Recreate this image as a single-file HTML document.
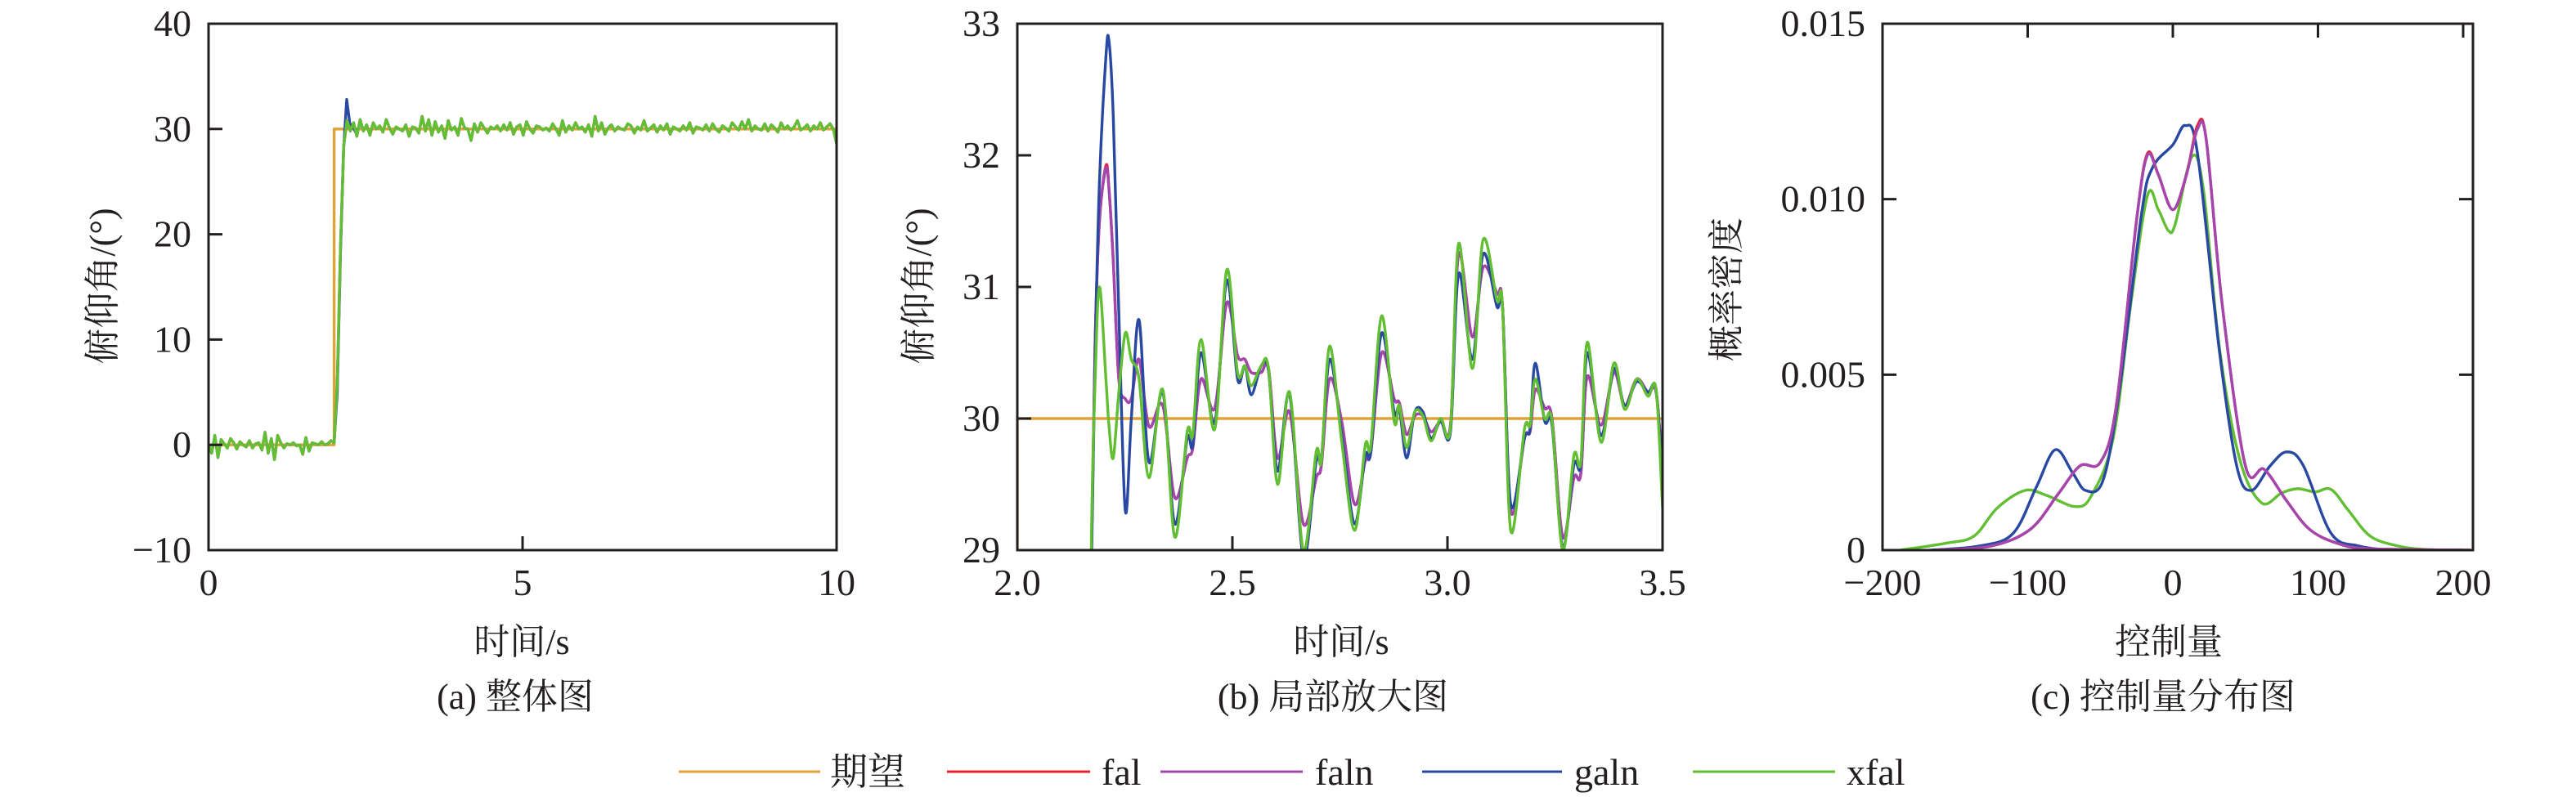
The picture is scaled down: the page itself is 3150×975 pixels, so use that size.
<!DOCTYPE html>
<html><head><meta charset="utf-8">
<style>
html,body{margin:0;padding:0;background:#fff;width:3150px;height:975px;overflow:hidden;}
svg{display:block;font-family:"Liberation Serif","Noto Serif CJK SC",serif;overflow:hidden;}
</style></head>
<body>
<svg id="fig" width="3150" height="975" viewBox="0 0 3150 975" xmlns="http://www.w3.org/2000/svg">
<rect width="3150" height="975" fill="#fff"/>
<g id="pa"></g>
<g id="pb"></g>
<g id="pc"></g>
<g id="legend"></g>
</svg>
<script>
// ---------- Panel (a) data ----------
const aTicksX = [0, 5, 10];
const aTicksY = [-10, 0, 10, 20, 30, 40];
const aPre = [0,-0.8,0.9,-1.2,0.5,0.1,-0.3,0.6,0.2,-0.4,0.3,0,-0.2,0.4,-0.3,0.1,0.2,-0.5,1.2,-0.8,0.6,-1.4,0.9,0.2,-0.3,0.1,0,0.2,-0.1,0,-0.9,0.7,-0.6,0.2,0.1,0,0.3,0,0.1,0.4,0.2];
const aPost = [6,19,28.5,30.8,29.8,30.6,29.3,30.9,29.8,30.4,29.4,30.6,30.0,30.3,29.7,30.9,30.1,29.5,30.2,30.0,29.8,30.4,29.3,30.2,30.1,29.6,31.2,29.8,30.9,29.4,30.7,29.7,30.3,29.1,30.8,29.9,30.2,29.4,31.0,30.1,30.0,28.9,30.5,29.7,30.6,30.1,29.6,30.2,30.0,30.3,29.8,30.4,29.9,30.6,29.5,30.2,30.4,29.4,30.7,30.0,29.6,30.3,30.2,29.9,30.1,29.8,30.5,30.0,29.4,30.8,29.7,30.3,29.9,30.6,30.0,30.2,29.7,30.4,29.3,31.2,29.8,30.6,29.5,30.1,30.4,29.8,30.2,30.0,29.9,30.5,30.3,29.6,30.2,29.9,30.8,29.8,30.1,30.4,29.7,30.3,29.9,30.5,29.5,30.2,30.0,29.8,30.3,29.9,30.6,29.6,30.2,30.1,29.9,30.4,29.8,30.5,30.0,29.7,30.3,30.1,29.8,30.6,30.2,29.9,30.7,30.0,30.9,29.8,30.3,30.0,29.9,30.5,29.8,30.4,30.1,29.7,30.6,30.0,30.3,29.9,30.2,30.8,29.9,30.1,30.4,29.8,30.3,30.0,30.6,29.9,30.2,30.5,30.0,28.6];
const aBlueT = [2.0,2.05,2.1,2.15,2.2,2.25,2.3,2.35,2.4];
const aBlueV = [0.2,5,18,28,32.8,30.5,30.2,29.6,30.3];
const aDesT = [0, 2, 2, 10];
const aDesV = [0, 0, 30, 30];

// ---------- Panel (b) data ----------
const bTicksX = [2.0, 2.5, 3.0, 3.5];
const bTicksY = [29, 30, 31, 32, 33];
const bTime = [2.165,2.172,2.181,2.191,2.206,2.213,2.223,2.236,2.251,2.265,2.283,2.306,2.338,2.366,2.395,2.408,2.427,2.459,2.487,2.512,2.529,2.544,2.567,2.584,2.605,2.633,2.665,2.695,2.707,2.726,2.754,2.784,2.809,2.822,2.847,2.876,2.888,2.905,2.924,2.943,2.962,2.984,3.007,3.026,3.058,3.083,3.115,3.128,3.147,3.179,3.192,3.204,3.226,3.243,3.268,3.294,3.310,3.325,3.357,3.387,3.412,3.440,3.466,3.485,3.5];
const bXfal = [26,29.0,30.3,31.0,30.3,29.95,29.7,30.2,30.65,30.45,30.3,29.55,30.22,29.1,29.9,29.88,30.6,29.92,31.13,30.35,30.4,30.25,30.4,30.38,29.5,30.2,29.0,29.75,29.68,30.55,29.83,29.15,29.8,29.8,30.78,29.98,30.1,29.78,30.05,30.02,29.83,30.0,29.93,31.33,30.38,31.36,30.9,30.85,29.15,29.92,29.95,30.3,30.0,29.98,29.0,29.72,29.67,30.58,29.82,30.42,30.07,30.3,30.17,30.22,29.32];
const bGaln = [26,28.8,30.5,31.8,32.75,32.87,32.3,30.8,29.3,30.0,30.75,29.67,30.2,29.2,29.85,29.8,30.5,29.97,31.05,30.3,30.4,30.18,30.4,30.36,29.6,30.18,28.95,29.68,29.7,30.45,29.88,29.2,29.72,29.75,30.65,30.05,30.08,29.7,30.05,30.05,29.85,29.98,29.9,31.1,30.45,31.25,30.85,30.85,29.35,29.85,29.92,30.42,29.98,29.95,29.02,29.65,29.65,30.5,29.87,30.38,30.1,30.28,30.2,30.22,29.5];
const bFaln = [26,28.9,30.6,31.5,31.9,31.75,31.2,30.3,30.15,30.15,30.45,29.94,30.1,29.4,29.7,29.78,30.3,30.08,30.88,30.48,30.45,30.35,30.35,30.38,29.7,30.05,29.2,29.55,29.65,30.3,29.98,29.35,29.68,29.75,30.5,30.15,30.12,29.88,30.02,30.02,29.9,29.98,29.95,31.25,30.62,31.15,30.95,30.85,29.3,29.85,29.9,30.22,30.08,30.0,29.1,29.55,29.58,30.32,29.95,30.35,30.1,30.3,30.2,30.2,29.6];
const bFal = [26,28.9,30.6,31.5,31.92,31.75,31.2,30.3,30.15,30.15,30.45,29.94,30.1,29.4,29.7,29.78,30.3,30.08,30.88,30.48,30.45,30.35,30.35,30.38,29.7,30.05,29.2,29.55,29.65,30.3,29.98,29.35,29.68,29.75,30.5,30.15,30.12,29.88,30.02,30.02,29.9,29.98,29.95,31.25,30.62,31.15,30.95,30.85,29.3,29.85,29.9,30.22,30.08,30.0,29.1,29.55,29.58,30.32,29.95,30.35,30.1,30.3,30.2,30.2,29.6];
const bDesT = [2.0, 2.0, 3.5];
const bDesV = [28, 30, 30];

// ---------- Panel (c) data ----------
const cTicksX = [-200, -100, 0, 100, 200];
const cTicksY = [0, 0.005, 0.010, 0.015];
const cTickLabelsY = ["0", "0.005", "0.010", "0.015"];
const cXfalX = [-188,-156,-137,-121,-102,-87,-67,-56,-41,-29,-17.5,-10,-3,1.7,13,21,32,46,61,75,86,98,109,121,136,155,174,200];
const cXfalY = [0,0.0002,0.0004,0.0012,0.0017,0.00156,0.00124,0.00156,0.0032,0.007,0.0101,0.0097,0.0091,0.0093,0.0112,0.0103,0.0058,0.0026,0.00135,0.00163,0.00175,0.00166,0.00173,0.00113,0.0004,0.00012,0.00002,0];
const cGalnX = [-167,-133,-110,-94,-81,-69,-60,-48,-37,-21.5,-14,0,8.6,17,32,44,54,67,78.5,90,109,128,155,200];
const cGalnY = [0,0.00012,0.00048,0.0018,0.00286,0.0022,0.0017,0.002,0.0045,0.0096,0.0109,0.01155,0.0121,0.0113,0.0057,0.0024,0.0017,0.0024,0.0028,0.0024,0.00048,0.00012,0,0];
const cFalnX = [-163,-125,-98,-79,-64,-50,-39,-25,-17.5,-10,0,9.4,17,23,34,50,63,78.5,94,113,136,205];
const cFalnY = [0,0.00012,0.0006,0.0016,0.0024,0.0025,0.0041,0.0094,0.01125,0.0107,0.0097,0.0107,0.012,0.0117,0.007,0.0024,0.0023,0.0014,0.0006,0.0002,0.00004,0];
const cFalY = [0,0.00012,0.0006,0.0016,0.0024,0.0025,0.0041,0.0094,0.0113,0.0107,0.0097,0.0107,0.0121,0.0117,0.007,0.0024,0.0023,0.0014,0.0006,0.0002,0.00004,0];

const legendLabels = ["期望", "fal", "faln", "galn", "xfal"];

const C = {des:"#E1A23A", fal:"#E5222E", faln:"#A347AE", galn:"#2848A2", xfal:"#62BE33"};
const NS = "http://www.w3.org/2000/svg";
function mk(tag, attrs, parent){const e=document.createElementNS(NS,tag);for(const k in attrs)e.setAttribute(k,attrs[k]);parent.appendChild(e);return e;}
function lin(d0,d1,r0,r1){return v=>r0+(v-d0)/(d1-d0)*(r1-r0);}
function smooth(pts){
  let d="M"+pts[0][0].toFixed(2)+","+pts[0][1].toFixed(2);
  for(let i=0;i<pts.length-1;i++){
    const p0=pts[i-1]||pts[i],p1=pts[i],p2=pts[i+1],p3=pts[i+2]||p2;
    const c1=[p1[0]+(p2[0]-p0[0])/6,p1[1]+(p2[1]-p0[1])/6];
    const c2=[p2[0]-(p3[0]-p1[0])/6,p2[1]-(p3[1]-p1[1])/6];
    d+="C"+c1[0].toFixed(2)+","+c1[1].toFixed(2)+" "+c2[0].toFixed(2)+","+c2[1].toFixed(2)+" "+p2[0].toFixed(2)+","+p2[1].toFixed(2);
  }
  return d;
}
function poly(pts){return "M"+pts.map(p=>p[0].toFixed(2)+","+p[1].toFixed(2)).join("L");}

function frame(g, L, R, T, B, clipId){
  const defs=mk("defs",{},g);
  const cp=mk("clipPath",{id:clipId},defs);
  mk("rect",{x:L,y:T,width:R-L,height:B-T},cp);
}
function axesBox(g,L,R,T,B){
  const r=mk("rect",{x:L,y:T,width:R-L,height:B-T,fill:"none",stroke:"#231f20","stroke-width":3},g);
  
  
}
function text(g,x,y,str,anchor,size,name){
  const t=mk("text",{x:x,y:y,"text-anchor":anchor,"font-size":size,fill:"#231f20"},g);
  t.textContent=str;
  
  
  return t;
}
function series(g,d,color,name,clip,w){
  const p=mk("path",{d:d,fill:"none",stroke:color,"stroke-width":w||3.4,"stroke-linejoin":"round","clip-path":"url(#"+clip+")"},g);
  
  
}

// ---------- Panel A ----------
(function(){
  const g=document.getElementById("pa");
  const L=255,R=1023,T=29,B=673;
  const X=lin(0,10,L,R), Y=lin(-10,40,B,T);
  frame(g,L,R,T,B,"clipA");
  series(g,poly(aDesT.map((t,i)=>[X(t),Y(aDesV[i])])),C.des,"series-desired-a","clipA");
  series(g,poly(aBlueT.map((t,i)=>[X(t),Y(aBlueV[i])])),C.galn,"series-galn-a","clipA");
  const pts=[];
  aPre.forEach((v,i)=>pts.push([X(i*0.05),Y(v)]));
  aPost.forEach((v,i)=>pts.push([X(2.05+i*7.95/(aPost.length-1)),Y(v)]));
  series(g,poly(pts),C.faln,"series-faln-a","clipA");
  series(g,poly(pts),C.xfal,"series-xfal-a","clipA");
  axesBox(g,L,R,T,B);
  aTicksY.forEach(v=>{
    mk("line",{x1:L,x2:L+17,y1:Y(v),y2:Y(v),stroke:"#231f20","stroke-width":3},g);
    text(g,234,Y(v)+15,v<0?"−"+Math.abs(v):String(v),"end",46,"y-tick-label");
  });
  aTicksX.forEach(v=>{
    mk("line",{x1:X(v),x2:X(v),y1:B,y2:B-17,stroke:"#231f20","stroke-width":3},g);
    text(g,X(v),728,String(v),"middle",46,"x-tick-label");
  });
  text(g,638,800,"时间/s","middle",44,"x-axis-title");
  text(g,630,867,"(a) 整体图","middle",44,"caption-a");
  const yl=text(g,0,0,"俯仰角/(°)","middle",44,"y-axis-title");
  yl.setAttribute("transform","translate(140,350) rotate(-90)");
})();

// ---------- Panel B ----------
(function(){
  const g=document.getElementById("pb");
  const L=1244,R=2033,T=29,B=673;
  const X=lin(2.0,3.5,L,R), Y=lin(29,33,B,T);
  frame(g,L,R,T,B,"clipB");
  series(g,poly(bDesT.map((t,i)=>[X(t),Y(bDesV[i])])),C.des,"series-desired-b","clipB");
  series(g,smooth(bTime.map((t,i)=>[X(t),Y(bFal[i])])),C.fal,"series-fal-b","clipB");
  series(g,smooth(bTime.map((t,i)=>[X(t),Y(bFaln[i])])),C.faln,"series-faln-b","clipB");
  series(g,smooth(bTime.map((t,i)=>[X(t),Y(bGaln[i])])),C.galn,"series-galn-b","clipB");
  series(g,smooth(bTime.map((t,i)=>[X(t),Y(bXfal[i])])),C.xfal,"series-xfal-b","clipB");
  axesBox(g,L,R,T,B);
  bTicksY.forEach(v=>{
    mk("line",{x1:L,x2:L+17,y1:Y(v),y2:Y(v),stroke:"#231f20","stroke-width":3},g);
    text(g,1223,Y(v)+15,String(v),"end",46,"y-tick-label");
  });
  bTicksX.forEach(v=>{
    mk("line",{x1:X(v),x2:X(v),y1:B,y2:B-17,stroke:"#231f20","stroke-width":3},g);
    text(g,X(v),728,v.toFixed(1),"middle",46,"x-tick-label");
  });
  text(g,1640,800,"时间/s","middle",44,"x-axis-title");
  text(g,1630,867,"(b) 局部放大图","middle",44,"caption-b");
  const yl=text(g,0,0,"俯仰角/(°)","middle",44,"y-axis-title");
  yl.setAttribute("transform","translate(1138,350) rotate(-90)");
})();

// ---------- Panel C ----------
(function(){
  const g=document.getElementById("pc");
  const L=2302,R=3024,T=29,B=673;
  const X=lin(-200,200,2302,3012), Y=lin(0,0.015,B,T);
  frame(g,L,R,T,B,"clipC");
  series(g,smooth(cXfalX.map((x,i)=>[X(x),Y(cXfalY[i])])),C.xfal,"series-xfal-c","clipC");
  series(g,smooth(cGalnX.map((x,i)=>[X(x),Y(cGalnY[i])])),C.galn,"series-galn-c","clipC");
  series(g,smooth(cFalnX.map((x,i)=>[X(x),Y(cFalY[i])])),C.fal,"series-fal-c","clipC");
  series(g,smooth(cFalnX.map((x,i)=>[X(x),Y(cFalnY[i])])),C.faln,"series-faln-c","clipC");
  axesBox(g,L,R,T,B);
  cTicksY.forEach((v,i)=>{
    mk("line",{x1:L,x2:L+17,y1:Y(v),y2:Y(v),stroke:"#231f20","stroke-width":3},g);
    mk("line",{x1:R,x2:R-17,y1:Y(v),y2:Y(v),stroke:"#231f20","stroke-width":3},g);
    text(g,2281,Y(v)+15,cTickLabelsY[i],"end",46,"y-tick-label");
  });
  cTicksX.forEach(v=>{
    mk("line",{x1:X(v),x2:X(v),y1:T,y2:T+17,stroke:"#231f20","stroke-width":3},g);
    text(g,X(v),728,v<0?"−"+Math.abs(v):String(v),"middle",46,"x-tick-label");
  });
  text(g,2652,800,"控制量","middle",44,"x-axis-title");
  text(g,2645,867,"(c) 控制量分布图","middle",44,"caption-c");
  const yl=text(g,0,0,"概率密度","middle",44,"y-axis-title");
  yl.setAttribute("transform","translate(2126,354) rotate(-90)");
})();

// ---------- Legend ----------
(function(){
  const g=document.getElementById("legend");
  const cols=[C.des,C.fal,C.faln,C.galn,C.xfal];
  const lineX=[[830,1003],[1158,1333],[1419,1593],[1739,1910],[2070,2244]];
  const textX=[1015,1347,1608,1925,2258];
  legendLabels.forEach((lab,i)=>{
    const e=mk("g",{},g);
    
    
    mk("line",{x1:lineX[i][0],x2:lineX[i][1],y1:944,y2:944,stroke:cols[i],"stroke-width":3},e);
    text(e,textX[i],960,lab,"start",46,"legend-label");
  });
})();
</script>
</body></html>
